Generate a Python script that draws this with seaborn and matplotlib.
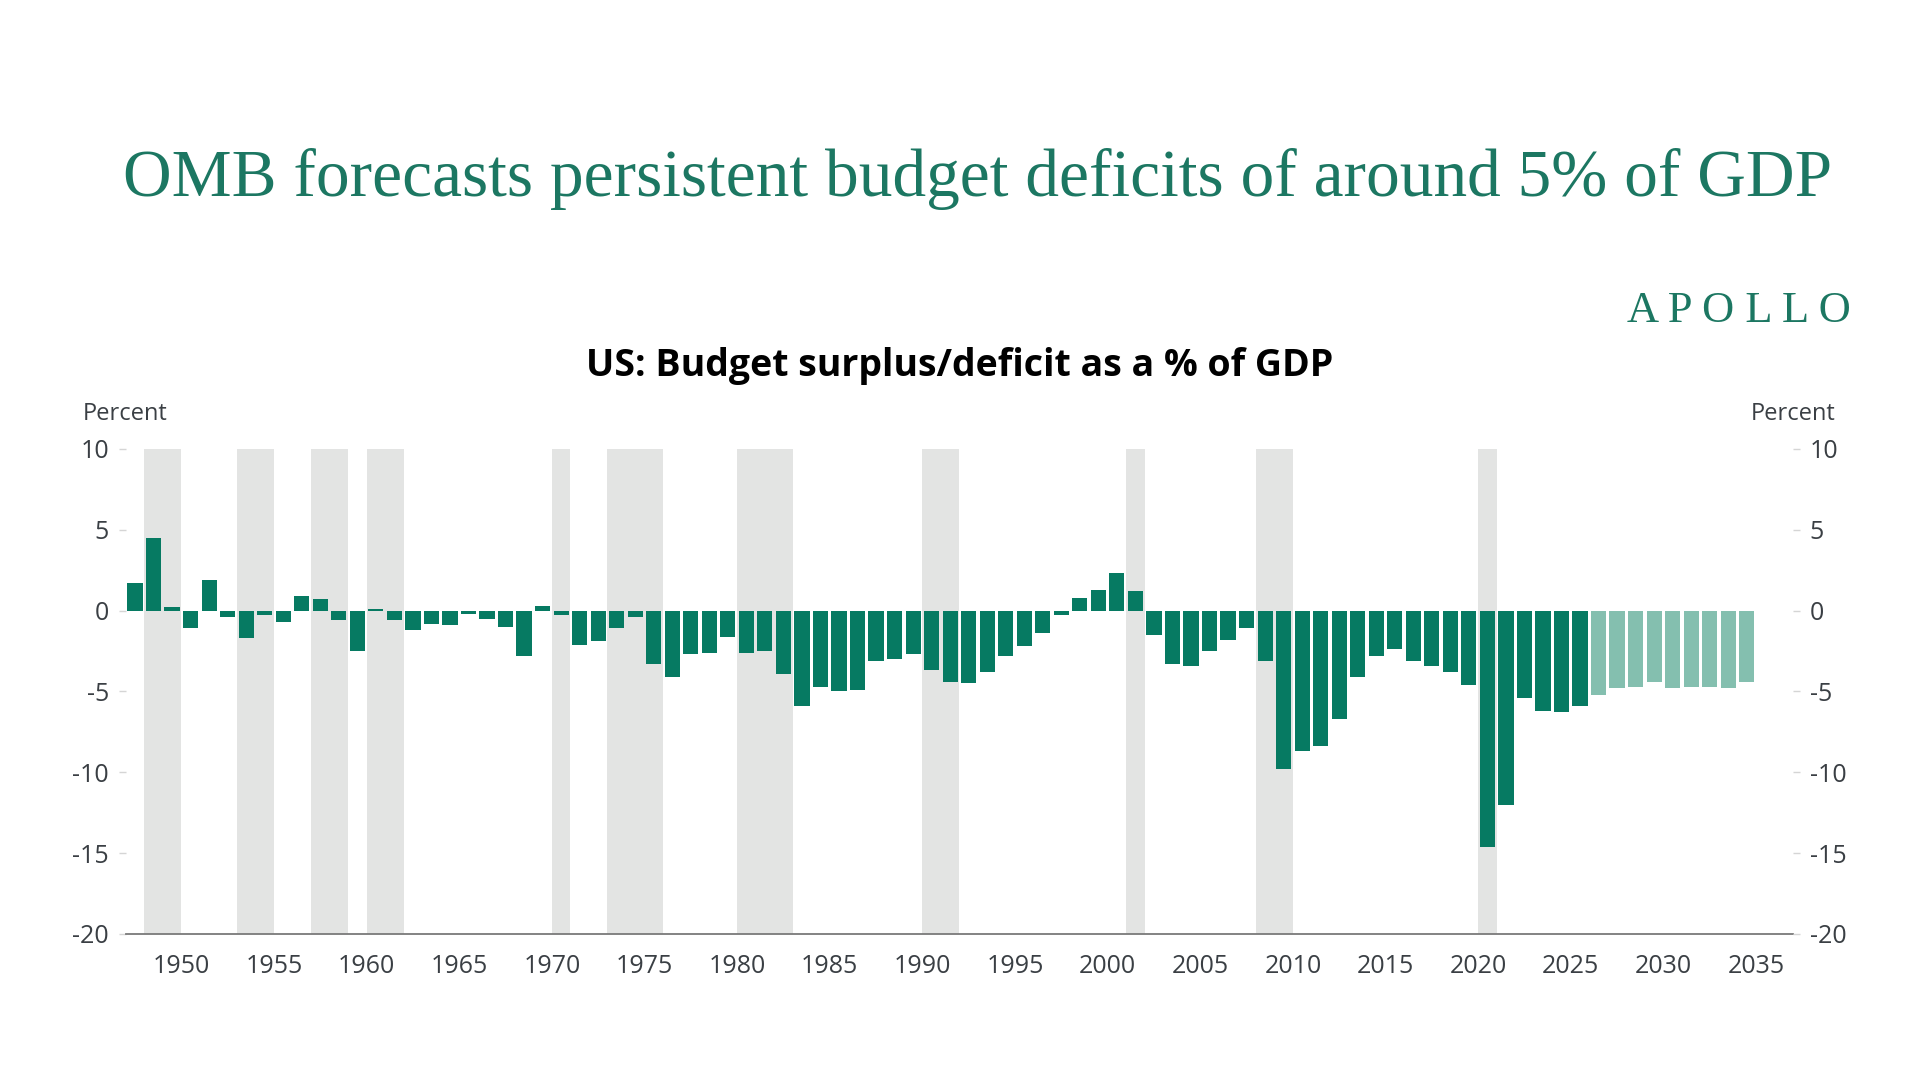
import numpy as np
import pandas as pd
import seaborn as sns
import matplotlib.pyplot as plt

# fiscal years and surplus(+)/deficit(-) as % of GDP
years = list(range(1947, 2035))
balance = [1.7, 4.5, 0.2, -1.1, 1.9, -0.4, -1.7, -0.3, -0.7, 0.9,
           0.7, -0.6, -2.5, 0.1, -0.6, -1.2, -0.8, -0.9, -0.2, -0.5,
           -1.0, -2.8, 0.3, -0.3, -2.1, -1.9, -1.1, -0.4, -3.3, -4.1,
           -2.7, -2.6, -1.6, -2.6, -2.5, -3.9, -5.9, -4.7, -5.0, -4.9,
           -3.1, -3.0, -2.7, -3.7, -4.4, -4.5, -3.8, -2.8, -2.2, -1.4,
           -0.3, 0.8, 1.3, 2.3, 1.2, -1.5, -3.3, -3.4, -2.5, -1.8,
           -1.1, -3.1, -9.8, -8.7, -8.4, -6.7, -4.1, -2.8, -2.4, -3.1,
           -3.4, -3.8, -4.6, -14.6, -12.0, -5.4, -6.2, -6.3, -5.9,
           -5.2, -4.8, -4.7, -4.4, -4.8, -4.7, -4.7, -4.8, -4.4]
first_forecast = 2026

# recessions (start year, end year) shaded in grey
recessions = [(1948, 1950), (1953, 1955), (1957, 1959), (1960, 1962),
              (1970, 1971), (1973, 1976), (1980, 1983), (1990, 1992),
              (2001, 2002), (2008, 2010), (2020, 2021)]

xticks = list(range(1950, 2036, 5))
yticks = [10, 5, 0, -5, -10, -15, -20]

GREEN = '#067a62'
LIGHT = '#84bfaf'
BAND = '#e3e4e3'
TXT = '#3a3f44'

df = pd.DataFrame({'year': years, 'balance': balance})
df['kind'] = np.where(df.year >= first_forecast, 'forecast', 'actual')
df['x'] = df.year + 0.5  # bar sits inside its fiscal year

sns.set_style('white')
plt.rcParams['font.family'] = ['Open Sans', 'DejaVu Sans']
plt.rcParams['axes.unicode_minus'] = False

fig = plt.figure(figsize=(19.2, 10.8), dpi=100)
ax = fig.add_axes([0.0655, 0.1352, 0.8684, 0.4491])

for a, b in recessions:
    ax.axvspan(a, b, color=BAND, lw=0, zorder=0)

sns.barplot(data=df, x='x', y='balance', hue='kind', native_scale=True,
            palette={'actual': GREEN, 'forecast': LIGHT}, dodge=False,
            saturation=1, width=0.82, linewidth=0, legend=False, ax=ax,
            zorder=2)

ax.set_xlim(1947, 2037)
ax.set_ylim(-20, 10)
ax.set_xticks(xticks)
ax.set_xticklabels([str(t) for t in xticks])
ax.set_yticks(yticks)
ax.set_xlabel('')
ax.set_ylabel('')
for s in ['top', 'left', 'right']:
    ax.spines[s].set_visible(False)
ax.spines['bottom'].set_color('#7a7a7a')
ax.spines['bottom'].set_linewidth(1.3)
ax.spines['bottom'].set_zorder(3)
ax.tick_params(axis='x', length=6.5, width=1, color='#c8c8c8', pad=8,
               labelsize=18, labelcolor=TXT)
ax.tick_params(axis='y', length=5, width=1, color='#d5d5d5', pad=7,
               labelsize=18, labelcolor=TXT)

ax2 = ax.twinx()
ax2.set_ylim(ax.get_ylim())
ax2.set_yticks(yticks)
for s in ax2.spines.values():
    s.set_visible(False)
ax2.tick_params(axis='y', length=5, width=1, color='#d5d5d5', pad=7,
                labelsize=18, labelcolor=TXT)

fig.text(0.043, 0.617, 'Percent', fontsize=17, color=TXT, va='center', ha='left')
fig.text(0.956, 0.617, 'Percent', fontsize=17, color=TXT, va='center', ha='right')

fig.text(0.5, 0.661, 'US: Budget surplus/deficit as a % of GDP', fontsize=27,
         fontweight='bold', color='black', ha='center', va='center')

fig.text(0.509, 0.8185, 'OMB forecasts persistent budget deficits of around 5% of GDP',
         family='Liberation Serif', fontsize=48.5, color='#1c7762',
         ha='center', va='baseline')
fig.text(0.964, 0.702, 'A P O L L O', family='Liberation Serif', fontsize=32,
         color='#1c7762', ha='right', va='baseline')

fig.savefig('out.png', dpi=100, facecolor='white')
